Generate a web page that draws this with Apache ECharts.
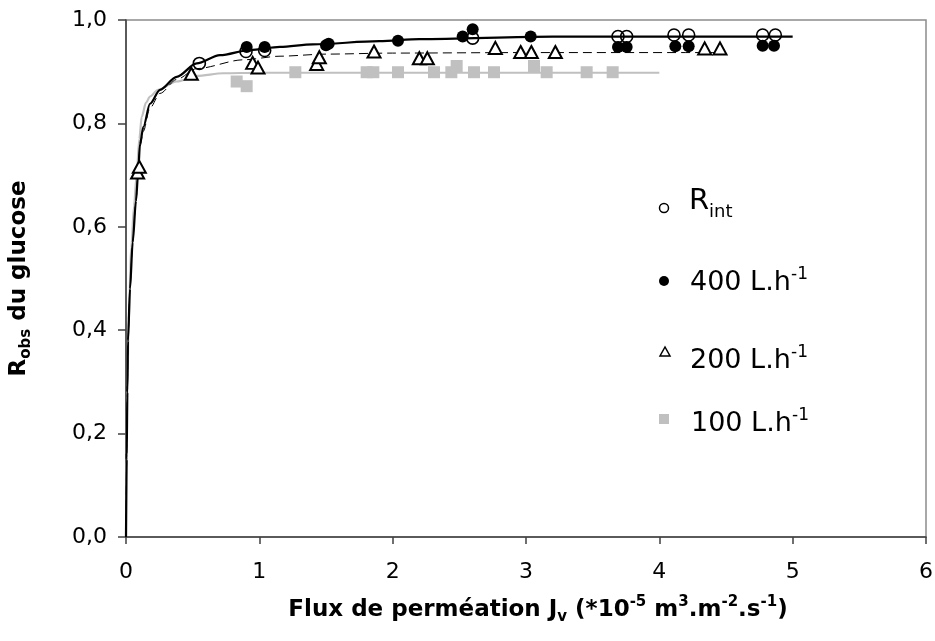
<!DOCTYPE html>
<html><head><meta charset="utf-8">
<script src="https://cdn.jsdelivr.net/npm/echarts@6/dist/echarts.min.js"></script>
<style>html,body{margin:0;padding:0;background:#fff}#c{width:935px;height:641px}</style>
</head><body><div id="c"></div>
<script>
// ---- data ----
const xTickLabels = ['0','1','2','3','4','5','6'];
const yTickLabels = ['0,0','0,2','0,4','0,6','0,8','1,0'];

const rintPts = [[0.55,0.916],[0.90,0.939],[1.04,0.941],[2.60,0.965],[3.69,0.968],[3.755,0.968],[4.11,0.971],[4.22,0.971],[4.775,0.971],[4.87,0.971]];
const flow400Pts = [[0.905,0.948],[1.04,0.948],[1.50,0.951],[1.52,0.954],[2.04,0.960],[2.525,0.968],[2.60,0.982],[3.035,0.968],[3.69,0.948],[3.755,0.948],[4.12,0.949],[4.22,0.949],[4.775,0.950],[4.86,0.950]];
const flow200Pts = [[0.087,0.705],[0.10,0.716],[0.49,0.896],[0.95,0.917],[0.99,0.908],[1.43,0.915],[1.45,0.928],[1.86,0.939],[2.20,0.926],[2.26,0.926],[2.77,0.946],[2.96,0.938],[3.04,0.938],[3.22,0.938],[4.34,0.945],[4.455,0.945]];
const flow100Pts = [[0.83,0.881],[0.905,0.872],[1.27,0.899],[1.805,0.899],[1.855,0.899],[2.04,0.899],[2.31,0.899],[2.44,0.899],[2.48,0.911],[2.61,0.899],[2.76,0.899],[3.06,0.911],[3.155,0.899],[3.455,0.899],[3.65,0.899]];

const fitRint = [[0,0],[0.005,0.15],[0.01,0.28],[0.015,0.38],[0.03,0.48],[0.05,0.57],[0.075,0.65],[0.09,0.70],[0.105,0.76],[0.13,0.793],[0.18,0.838],[0.255,0.865],[0.38,0.89],[0.53,0.916],[0.705,0.932],[0.93,0.942],[1.155,0.948],[1.4,0.953],[1.9,0.959],[2.2,0.963],[3.2,0.968],[5,0.968]];
const fit200 = [[0,0],[0.005,0.15],[0.01,0.28],[0.015,0.38],[0.03,0.48],[0.05,0.57],[0.075,0.65],[0.09,0.70],[0.105,0.755],[0.13,0.785],[0.18,0.83],[0.255,0.858],[0.38,0.885],[0.53,0.906],[0.88,0.923],[1.155,0.930],[1.5,0.934],[2,0.936],[3,0.937],[4.45,0.937]];
const fit100 = [[0,0],[0.005,0.16],[0.01,0.29],[0.02,0.42],[0.04,0.56],[0.06,0.64],[0.08,0.70],[0.1,0.77],[0.118,0.813],[0.15,0.84],[0.18,0.852],[0.24,0.865],[0.38,0.881],[0.53,0.892],[0.73,0.897],[1,0.898],[4,0.898]];

// ---- chart ----
const F = '"DejaVu Sans", sans-serif';
const chart = echarts.init(document.getElementById('c'), null, {renderer:'canvas'});
const titleRich = {
  b:  {fontFamily:F, fontWeight:'bold', fontSize:23, color:'#000', lineHeight:30},
  sb: {fontFamily:F, fontWeight:'bold', fontSize:15, color:'#000', lineHeight:16, verticalAlign:'bottom'},
  sp: {fontFamily:F, fontWeight:'bold', fontSize:15, color:'#000', lineHeight:15, verticalAlign:'top'}
};
const lineSeries = (name, data, color, width, type) => ({
  name, type:'line', data, symbol:'none', smooth:0.3, smoothMonotone:'x',
  lineStyle:{color, width, type, opacity:1}, silent:true, z:2
});
chart.setOption({
  backgroundColor:'#fff',
  animation:false,
  grid:{left:126, right:9, top:20, bottom:104, show:true, borderColor:'#8c8c8c', borderWidth:1.5, backgroundColor:'transparent', outerBoundsMode:'none'},
  xAxis:{
    type:'value', min:0, max:6, interval:1,
    axisLine:{show:true, onZero:false, lineStyle:{color:'#404040', width:1.5}},
    axisTick:{show:true, length:7, lineStyle:{color:'#404040', width:1.5}},
    splitLine:{show:false},
    axisLabel:{fontFamily:F, fontSize:22, color:'#000', margin:24, formatter:v=>xTickLabels[Math.round(v)]},
    name:'{b|Flux de perméation J}{sb|v}{b| (*10}{sp|-5}{b| m}{sp|3}{b|.m}{sp|-2}{b|.s}{sp|-1}{b|)}',
    nameLocation:'middle', nameGap:58,
    nameTextStyle:{rich:titleRich, padding:[0,0,0,24]}
  },
  yAxis:{
    type:'value', min:0, max:1, interval:0.2,
    axisLine:{show:true, onZero:false, lineStyle:{color:'#404040', width:1.5}},
    axisTick:{show:true, length:8, lineStyle:{color:'#404040', width:1.5}},
    splitLine:{show:false},
    axisLabel:{fontFamily:F, fontSize:22, color:'#000', margin:19, formatter:v=>yTickLabels[Math.round(v/0.2)]},
    name:'{b|R}{sb|obs}{b| du glucose}',
    nameLocation:'middle', nameGap:92,
    nameTextStyle:{rich:titleRich}
  },
  series:[
    lineSeries('fit100', fit100, '#c0c0c0', 2.2, 'solid'),
    lineSeries('fit200', fit200, '#000', 1, [9,5]),
    lineSeries('fitRint', fitRint, '#000', 2.2, 'solid'),
    {name:'100 L.h-1', type:'scatter', data:flow100Pts, symbol:'rect', symbolSize:12, itemStyle:{color:'#c0c0c0', opacity:1}, z:3},
    {name:'200 L.h-1', type:'scatter', data:flow200Pts, symbol:'triangle', symbolSize:[13,12], itemStyle:{color:'#fff', borderColor:'#000', borderWidth:2, opacity:1}, z:3},
    {name:'400 L.h-1', type:'scatter', data:flow400Pts, symbol:'circle', symbolSize:12, itemStyle:{color:'#000', opacity:1}, z:3},
    {name:'Rint', type:'scatter', data:rintPts, symbol:'circle', symbolSize:12, itemStyle:{color:'rgba(255,255,255,0)', borderColor:'#000', borderWidth:1.6, opacity:1}, z:3}
  ],
  graphic:[
    {type:'circle', shape:{cx:664, cy:208, r:4.5}, style:{fill:'#fff', stroke:'#000', lineWidth:1.5}},
    {type:'text', x:689, y:201, style:{text:'R', fontFamily:F, fontSize:29, fill:'#000', verticalAlign:'middle'}},
    {type:'text', x:709, y:212, style:{text:'int', fontFamily:F, fontSize:18, fill:'#000', verticalAlign:'middle'}},

    {type:'circle', shape:{cx:664, cy:281, r:5}, style:{fill:'#000'}},
    {type:'text', x:690, y:283, style:{text:'400 L.h', fontFamily:F, fontSize:27, fill:'#000', verticalAlign:'middle'}},
    {type:'text', x:791, y:275, style:{text:'-1', fontFamily:F, fontSize:17, fill:'#000', verticalAlign:'middle'}},

    {type:'polygon', shape:{points:[[665,347],[660,356],[670,356]]}, style:{fill:'#fff', stroke:'#000', lineWidth:1.5}},
    {type:'text', x:690, y:361, style:{text:'200 L.h', fontFamily:F, fontSize:27, fill:'#000', verticalAlign:'middle'}},
    {type:'text', x:791, y:353, style:{text:'-1', fontFamily:F, fontSize:17, fill:'#000', verticalAlign:'middle'}},

    {type:'rect', shape:{x:659, y:414, width:10, height:10}, style:{fill:'#c0c0c0'}},
    {type:'text', x:691, y:424, style:{text:'100 L.h', fontFamily:F, fontSize:27, fill:'#000', verticalAlign:'middle'}},
    {type:'text', x:792, y:416, style:{text:'-1', fontFamily:F, fontSize:17, fill:'#000', verticalAlign:'middle'}}
  ]
});
</script>
</body></html>
